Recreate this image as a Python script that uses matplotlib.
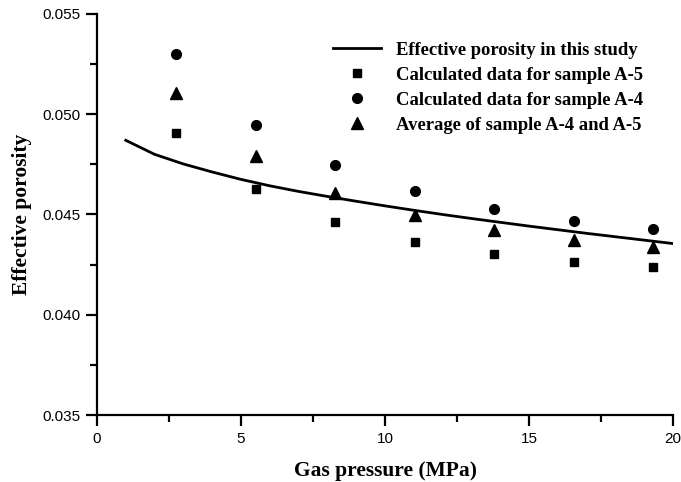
import numpy as np
import matplotlib.pyplot as plt
from matplotlib.ticker import MultipleLocator, FormatStrFormatter

# curve: effective porosity in this study
p_line = [1, 2, 3, 4, 5, 6, 7, 8, 9, 10, 11, 12, 13, 14, 15, 16, 17, 18, 19, 20]
phi_line = [0.0487, 0.0480, 0.04752, 0.04712, 0.04675, 0.04643, 0.04615, 0.04590,
            0.04566, 0.04543, 0.04521, 0.04500, 0.04480, 0.04461, 0.04442, 0.04424,
            0.04406, 0.04389, 0.04372, 0.04355]

# measured points
p_pts = [2.76, 5.52, 8.27, 11.03, 13.79, 16.55, 19.31]
phi_a5 = [0.04905, 0.04626, 0.04465, 0.04365, 0.04303, 0.04263, 0.04240]
phi_a4 = [0.05300, 0.04947, 0.04747, 0.04618, 0.04526, 0.04467, 0.04426]
phi_avg = [0.05105, 0.04792, 0.04609, 0.04498, 0.04423, 0.04373, 0.04337]

fig = plt.figure(figsize=(6.81, 4.82), dpi=100)
ax = fig.add_axes([0.1424, 0.139, 0.8459, 0.832])

ax.plot(p_line, phi_line, color='black', lw=2, label='Effective porosity in this study')
ax.plot(p_pts, phi_a5, 's', color='black', ms=6, label='Calculated data for sample A-5')
ax.plot(p_pts, phi_a4, 'o', color='black', ms=7, label='Calculated data for sample A-4')
ax.plot(p_pts, phi_avg, '^', color='black', ms=8, label='Average of sample A-4 and A-5')

ax.set_xlim(0, 20)
ax.set_ylim(0.035, 0.055)
ax.xaxis.set_major_locator(MultipleLocator(5))
ax.xaxis.set_minor_locator(MultipleLocator(2.5))
ax.yaxis.set_major_locator(MultipleLocator(0.005))
ax.yaxis.set_minor_locator(MultipleLocator(0.0025))
ax.yaxis.set_major_formatter(FormatStrFormatter('%.3f'))

for s in ['top', 'right']:
    ax.spines[s].set_visible(False)
for s in ['left', 'bottom']:
    ax.spines[s].set_linewidth(1.6)
ax.tick_params(which='major', direction='out', length=8, width=1.6,
               labelsize=11, pad=4)
ax.tick_params(which='minor', direction='out', length=5, width=1.6)
for lab in ax.get_xticklabels() + ax.get_yticklabels():
    lab.set_fontfamily('Liberation Sans')

ax.set_xlabel('Gas pressure (MPa)', fontfamily='Liberation Serif',
              fontweight='bold', fontsize=15.5, labelpad=11)
ax.set_ylabel('Effective porosity', fontfamily='Liberation Serif',
              fontweight='bold', fontsize=15.5, labelpad=7)

ax.legend(loc='upper left', bbox_to_anchor=(0.38, 0.972), frameon=False,
          prop={'family': 'Liberation Serif', 'weight': 'bold', 'size': 13.4},
          handlelength=2.6, handletextpad=0.8, labelspacing=0.42)

fig.savefig('out.png', dpi=100)
